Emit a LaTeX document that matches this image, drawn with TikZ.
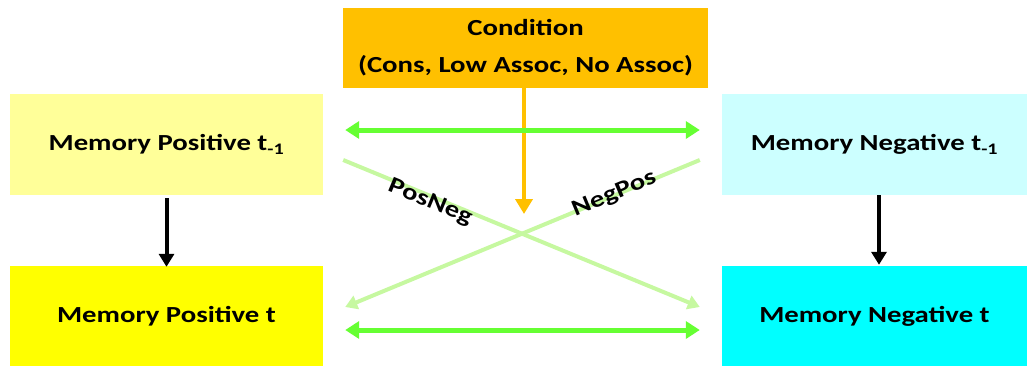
\documentclass[tikz,border=0pt]{standalone}
\usepackage{fontspec}
\setmainfont{Carlito}[FakeStretch=1.25]
\usepackage{tikz}
\usetikzlibrary{arrows.meta,positioning}
\definecolor{condbox}{RGB}{255,192,0}
\definecolor{posprevbox}{RGB}{255,255,153}
\definecolor{posbox}{RGB}{255,255,0}
\definecolor{negprevbox}{RGB}{204,255,255}
\definecolor{negbox}{RGB}{0,255,255}
\definecolor{linkgreen}{RGB}{102,255,51}
\definecolor{crossgreen}{RGB}{198,248,160}
\tikzset{
  block/.style={
    draw=none,
    align=center,
    inner sep=4pt,
    font=\fontsize{23}{37}\selectfont\bfseries
  },
  memline/.style={-{Triangle[length=13pt,width=15pt]}, line width=4pt, black},
  condline/.style={-{Triangle[length=15pt,width=17pt]}, line width=4pt, condbox},
  link/.style={{Triangle[length=14pt,width=17pt]}-{Triangle[length=14pt,width=17pt]}, line width=5pt, linkgreen},
  cross/.style={-{Triangle[length=12pt,width=14pt]}, line width=4pt, crossgreen},
  crosslabel/.style={sloped, inner sep=0pt, font=\fontsize{23}{26}\selectfont\bfseries, text=black}
}
\begin{document}
\begin{tikzpicture}[x=1pt,y=-1pt]
  \useasboundingbox (0,0) rectangle (1027,365);
  \node[block, fill=condbox, minimum width=365pt, minimum height=80pt] (cond) at (525.5,48) {Condition\\(Cons, Low Assoc, No Assoc)};
  \node[block, fill=posprevbox, minimum width=313pt, minimum height=101pt] (posprev) at (166.5,144.5) {Memory Positive t\textsubscript{-1}};
  \node[block, fill=posbox, minimum width=313pt, minimum height=100pt] (pos) at (166.5,316) {Memory Positive t};
  \node[block, fill=negprevbox, minimum width=305pt, minimum height=101pt] (negprev) at (874.5,144.5) {Memory Negative t\textsubscript{-1}};
  \node[block, fill=negbox, minimum width=305pt, minimum height=100pt] (neg) at (874.5,316) {Memory Negative t};
  \coordinate (condend) at (524,214);
  \draw[memline] ([yshift=-3pt]posprev.south) -- ([yshift=-1pt]pos.north);
  \draw[memline] ([xshift=4.5pt]negprev.south) -- ([xshift=4.5pt,yshift=1pt]neg.north);
  \draw[cross] ([xshift=20pt,yshift=-15.5pt]posprev.east) -- node[crosslabel, pos=0.25, yshift=-6pt] {PosNeg} ([xshift=-22pt,yshift=9pt]neg.west);
  \draw[cross] ([xshift=-22pt,yshift=-15.5pt]negprev.west) -- node[crosslabel, pos=0.24, yshift=1pt] {NegPos} ([xshift=22pt,yshift=9pt]pos.east);
  \draw[condline] ([xshift=-1.5pt]cond.south) -- (condend);
  \draw[link] ([xshift=22pt,yshift=14.5pt]posprev.east) -- ([xshift=-22pt,yshift=14.5pt]negprev.west);
  \draw[link] ([xshift=22pt,yshift=-14pt]pos.east) -- ([xshift=-22pt,yshift=-14pt]neg.west);
\end{tikzpicture}
\end{document}
